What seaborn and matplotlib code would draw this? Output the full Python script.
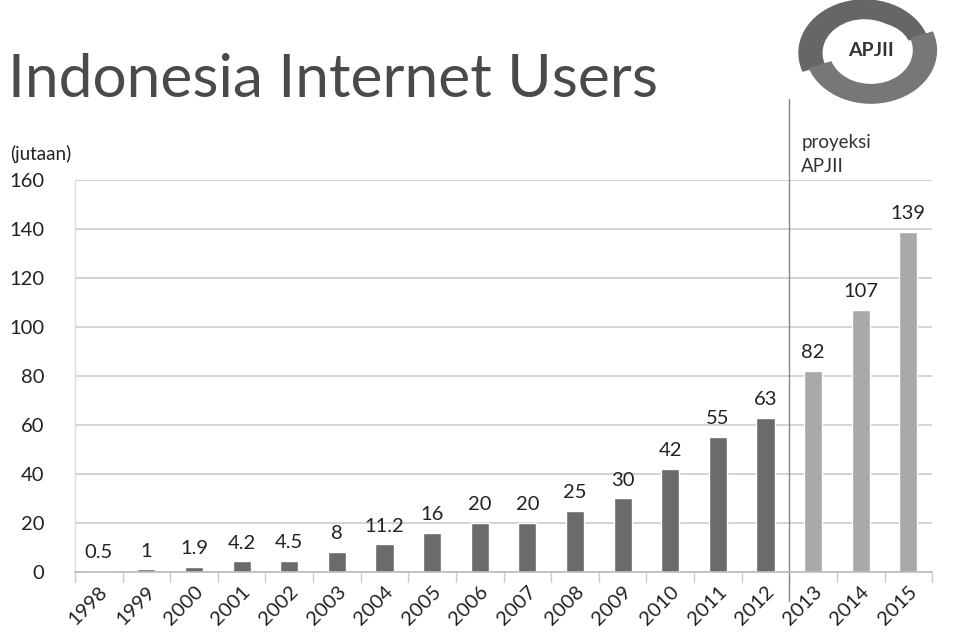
import matplotlib
matplotlib.use("Agg")
import matplotlib.pyplot as plt
import seaborn as sns
import pandas as pd
from matplotlib.patches import Ellipse, Wedge

years = ["1998", "1999", "2000", "2001", "2002", "2003", "2004", "2005", "2006",
         "2007", "2008", "2009", "2010", "2011", "2012", "2013", "2014", "2015"]
users = [0.5, 1, 1.9, 4.2, 4.5, 8, 11.2, 16, 20, 20, 25, 30, 42, 55, 63, 82, 107, 139]
labels = ["0.5", "1", "1.9", "4.2", "4.5", "8", "11.2", "16", "20", "20", "25", "30",
          "42", "55", "63", "82", "107", "139"]
projected = ["2013", "2014", "2015"]

df = pd.DataFrame({"year": years, "users": users})
df["kind"] = ["proj" if y in projected else "real" for y in years]

sns.set_theme(style="white")
plt.rcParams["font.family"] = ["Lato", "DejaVu Sans"]

fig = plt.figure(figsize=(9.74, 6.41), dpi=100)
ax = fig.add_axes([0.077, 0.108, 0.88, 0.611])

sns.barplot(data=df, x="year", y="users", hue="kind",
            palette={"real": "#6b6b6b", "proj": "#a9a9a9"},
            width=0.38, legend=False, ax=ax, saturation=1)

for i, (v, t) in enumerate(zip(users, labels)):
    ax.text(i, v + 4, t, ha="center", va="bottom", fontsize=14.5, color="#222222")

ax.set_ylim(0, 160)
ax.set_xlim(-0.5, len(years) - 0.5)
ax.set_yticks(range(0, 161, 20))
ax.yaxis.grid(True, color="#cccccc", linewidth=1.2)
ax.set_axisbelow(True)
for s in ["top", "right", "left"]:
    ax.spines[s].set_visible(False)
ax.spines["bottom"].set_color("#bbbbbb")
ax.spines["bottom"].set_linewidth(1.2)
ax.plot([-0.5, -0.5], [0, 160], color="#dddddd", lw=1, clip_on=False)
ax.set_xlabel("")
ax.set_ylabel("")
ax.tick_params(axis="y", labelsize=14.5, colors="#222222", length=0, pad=22)
ax.tick_params(axis="x", labelsize=14.5, colors="#222222", length=0, pad=8)
for lab in ax.get_xticklabels():
    lab.set_rotation(45)
    lab.set_ha("right")
    lab.set_rotation_mode("anchor")
# category boundary ticks
for b in range(len(years) + 1):
    ax.plot([b - 0.5, b - 0.5], [0, -4], color="#cccccc", lw=1, clip_on=False)

# projection separator
sep = len(years) - len(projected) - 0.5
ax.plot([sep, sep], [-12, 193], color="#888888", lw=1, clip_on=False)
ax.text(sep + 0.25, 162, "proyeksi\nAPJII", fontsize=13.5, color="#333333",
        ha="left", va="bottom", linespacing=1.5)

fig.text(0.01, 0.745, "(jutaan)", fontsize=13.5, color="#222222", ha="left", va="bottom")
fig.text(0.008, 0.833, "Indonesia Internet Users", fontsize=43.5, color="#4a4a4a",
         ha="left", va="bottom")

# simple logo
lax = fig.add_axes([0.78, 0.835, 0.215, 0.165])
lax.set_xlim(-1.6, 1.6)
lax.set_ylim(-1, 1)
lax.axis("off")
lax.add_patch(Wedge((0, 0), 1.0, 20, 200, width=0.35, color="#666666"))
lax.add_patch(Wedge((0.1, 0.05), 1.0, 200, 380, width=0.35, color="#777777"))
lax.add_patch(Ellipse((0.1, 0.05), 1.2, 1.05, color="white"))
lax.text(0.1, 0.05, "APJII", fontsize=14, fontweight="bold", color="#333333",
         ha="center", va="center")

fig.savefig("out.png", dpi=100)
